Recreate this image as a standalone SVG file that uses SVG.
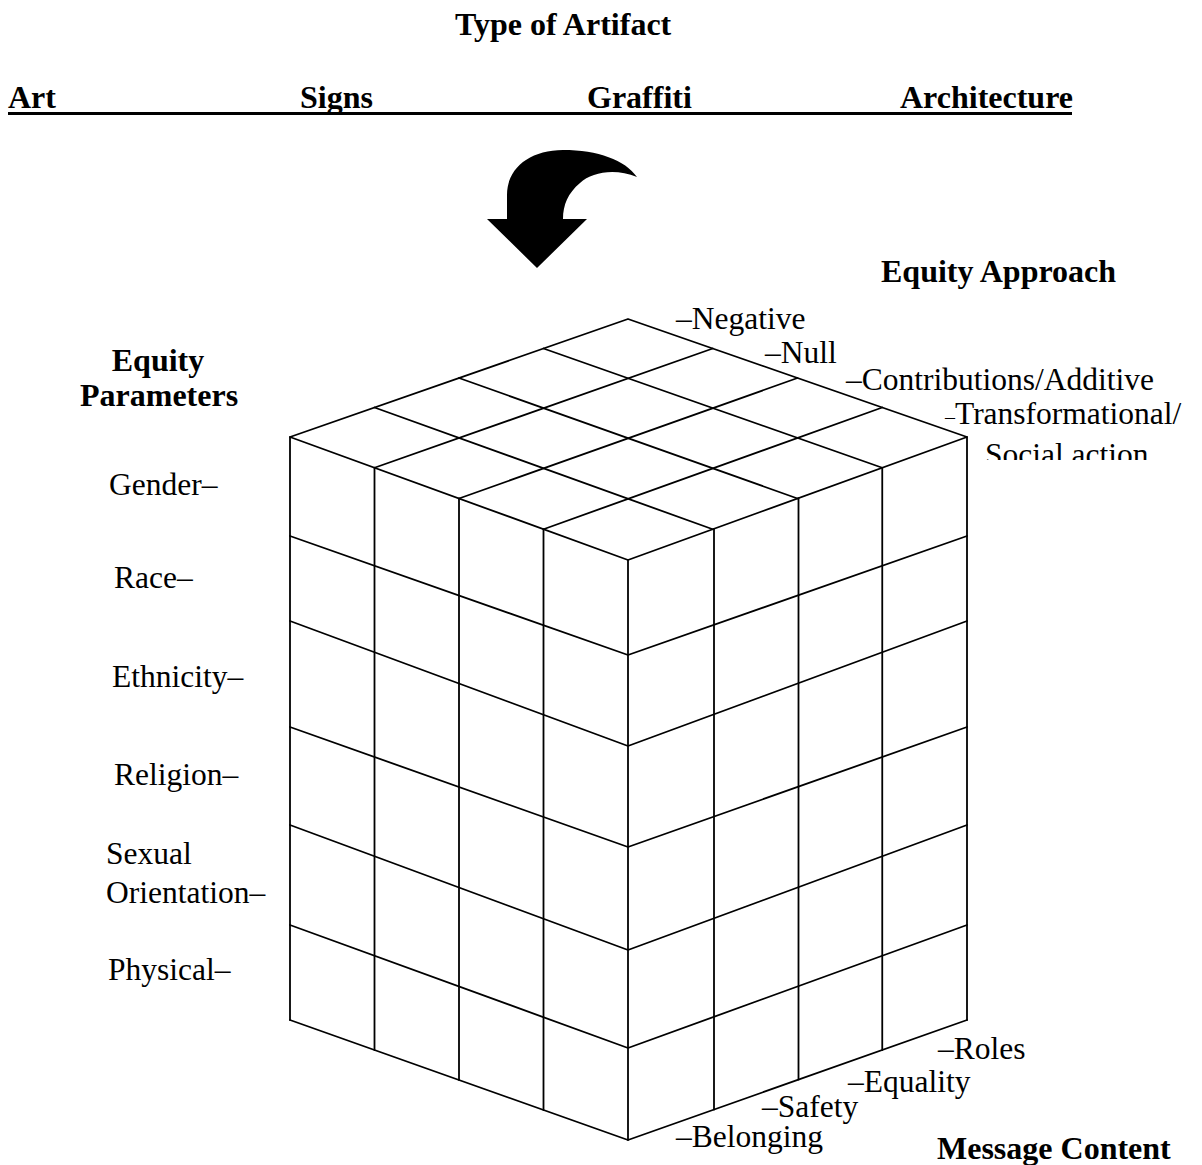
<svg xmlns="http://www.w3.org/2000/svg" width="1202" height="1165" viewBox="0 0 1202 1165">
<style>
.t{font-family:"Liberation Serif","Times New Roman",serif;font-size:31.5px;fill:#000}
.b{font-family:"Liberation Serif","Times New Roman",serif;font-size:32px;font-weight:bold;fill:#000}
.g line,.g polyline{stroke:#000;stroke-width:1.8;fill:none;stroke-linecap:round;stroke-linejoin:round}
</style>
<defs>
<clipPath id="clipSoc"><rect x="900" y="400" width="302" height="60"/></clipPath>
</defs>
<rect width="1202" height="1165" fill="#fff"/>

<g id="header">
<text class="b" x="455" y="35">Type of Artifact</text>
<text class="b" x="8" y="108">Art</text>
<text class="b" x="300" y="108">Signs</text>
<text class="b" x="587" y="108">Graffiti</text>
<text class="b" x="900" y="108">Architecture</text>
<rect x="8" y="112" width="1064" height="3" fill="#000"/>
</g>

<g id="arrow">
<path d="M487,219 L507,219 L507,195 C507,168 530,150 563,150 C598,150 625,160 637,177 C615,168 592,172 580,183 C568,193 563,205 563,219 L587,219 L537,268 Z" fill="#000"/>
</g>

<g id="cube" class="g">
<polyline points="290,1020 290,437 628,319 967,437 967,1020"/>
<polyline points="290,437 628,560 967,437"/>
<line x1="628" y1="560" x2="628" y2="1140"/>
<polyline points="290,1020 628,1140 967,1020"/>
<line x1="543.5" y1="348.5" x2="882.25" y2="467.75"/>
<line x1="459" y1="378" x2="797.5" y2="498.5"/>
<line x1="374.5" y1="407.5" x2="712.75" y2="529.25"/>
<line x1="712.75" y1="348.5" x2="374.5" y2="467.75"/>
<line x1="797.5" y1="378" x2="459" y2="498.5"/>
<line x1="882.25" y1="407.5" x2="543.5" y2="529.25"/>
<line x1="374.5" y1="467.7" x2="374.5" y2="1050"/>
<line x1="459" y1="498.5" x2="459" y2="1080"/>
<line x1="543.5" y1="529.2" x2="543.5" y2="1110"/>
<line x1="714" y1="528.8" x2="714" y2="1109.6"/>
<line x1="798.5" y1="498.1" x2="798.5" y2="1079.6"/>
<line x1="882.25" y1="467.8" x2="882.25" y2="1050"/>
<polyline points="290,536 628,655 967,536"/>
<polyline points="290,621 628,746 967,621"/>
<polyline points="290,727 628,847 967,727"/>
<polyline points="290,825 628,950 967,825"/>
<polyline points="290,925 628,1048 967,925"/>
</g>

<g id="approach">
<text class="b" x="881" y="282">Equity Approach</text>
<text class="t" x="676" y="329">–Negative</text>
<text class="t" x="765" y="363">–Null</text>
<text class="t" x="846" y="390">–Contributions/Additive</text>
<text class="t" x="945" y="424"><tspan font-size="20">–</tspan>Transformational/</text>
<text class="t" x="985" y="465" clip-path="url(#clipSoc)">Social action</text>
</g>

<g id="parameters">
<text class="b" x="158" y="371" text-anchor="middle">Equity</text>
<text class="b" x="80" y="406">Parameters</text>
<text class="t" x="109" y="495">Gender–</text>
<text class="t" x="114" y="588">Race–</text>
<text class="t" x="112" y="687">Ethnicity–</text>
<text class="t" x="114" y="785">Religion–</text>
<text class="t" x="106" y="864">Sexual</text>
<text class="t" x="106" y="903">Orientation–</text>
<text class="t" x="108" y="980">Physical–</text>
</g>

<g id="content">
<text class="t" x="938" y="1059">–Roles</text>
<text class="t" x="848" y="1092">–Equality</text>
<text class="t" x="762" y="1117">–Safety</text>
<text class="t" x="676" y="1147">–Belonging</text>
<text class="b" x="937" y="1159">Message Content</text>
</g>
</svg>
